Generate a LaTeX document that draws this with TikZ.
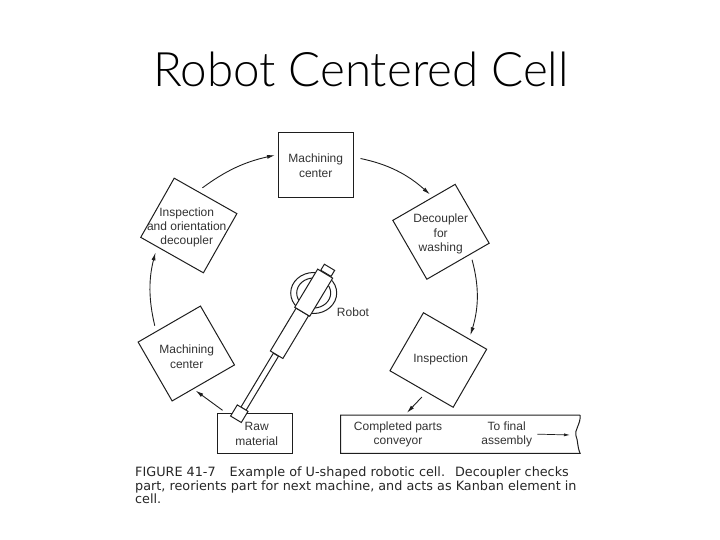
\documentclass[tikz,border=0pt]{standalone}
\usepackage{xcolor}
\usepackage{fontspec}
\setmainfont{Liberation Sans}
\newfontfamily\captionfont{DejaVu Sans}
\newfontfamily\titlefont{Lato Light}
\definecolor{inkline}{HTML}{1E1E1E}
\definecolor{inktext}{HTML}{333333}
\usetikzlibrary{arrows.meta,shapes.geometric}
\tikzset{
  cellbox/.style={draw=inkline, line width=1pt, fill=white, outer sep=0pt, inner sep=0pt},
  celltext/.style={text=inktext, align=center, inner sep=0pt, font=\fontsize{12}{14.2}\selectfont},
  armpart/.style={draw=inkline, line width=1pt, fill=white, inner sep=0pt, outer sep=0pt, rotate=-31},
  basering/.style={draw=inkline, line width=1pt, ellipse, inner sep=0pt},
  flow/.style={-{Latex[length=8pt,width=4pt]}, line width=0.9pt, inkline}
}

\begin{document}
\begin{tikzpicture}[x=1pt, y=-1pt]
\useasboundingbox (0,0) rectangle (720,540);
\node[anchor=base, inner sep=0pt, font=\titlefont\fontsize{47.5}{52}\selectfont] (title) at (361,86.7) {Robot Centered Cell};

\node[cellbox, minimum width=74.7pt, minimum height=65pt] (machtop) at (316.3,165) {};
\node[cellbox, minimum width=72pt, minimum height=68pt, rotate=30] (washbox) at (441,231.8) {};
\node[cellbox, minimum width=73pt, minimum height=67pt, rotate=-30] (inspbox) at (438.3,360) {};
\node[cellbox, minimum width=72pt, minimum height=68pt, rotate=30] (machleft) at (186.3,353.5) {};
\node[cellbox, minimum width=72pt, minimum height=68pt, rotate=-29.5] (orientbox) at (188.8,225.5) {};
\node[cellbox, minimum width=75pt, minimum height=40pt] (rawbox) at (255.2,433.3) {};
\node[inner sep=0pt, outer sep=0pt, minimum width=239.4pt, minimum height=38.3pt] (conveyor) at (460.4,434.2) {};
\draw[line width=1pt, inkline] (conveyor.north east) -- (conveyor.north west) -- (conveyor.south west) -- (conveyor.south east)
  .. controls (577,446) and (578,440) .. (576,436) .. controls (574,430) and (581,424) .. (conveyor.north east);

\node[celltext] (machtoptext) at (315.7,165.7) {Machining\\center};
\node[celltext] (washtext) at (440.7,234) {Decoupler\\for\\washing};
\node[celltext] (insptext) at (440.7,359.3) {Inspection};
\node[celltext] (machlefttext) at (186.7,356.7) {Machining\\center};
\node[celltext] (orienttext) at (186.7,227.3) {Inspection\\and orientation\\decoupler};
\node[celltext] (rawtext) at (256.7,434) {Raw\\material};
\node[celltext] (convtext) at (398,434) {Completed parts\\conveyor};
\node[celltext] (finaltext) at (506.7,434) {To final\\assembly};
\node[celltext] (robottext) at (353,312) {Robot};

\node[armpart, minimum width=6pt, minimum height=63pt] (armrod) at (259.7,381.7) {};
\node[armpart, minimum width=14.6pt, minimum height=50pt] (armmid) at (289.5,333.3) {};
\node[armpart, minimum width=12.5pt, minimum height=13pt] (gripper) at (239.3,413.7) {};
\node[basering, minimum width=46pt, minimum height=41pt] (baseouter) at (313.7,293) {};
\node[basering, minimum width=34pt, minimum height=30pt] (baseinner) at (313.7,293) {};
\node[armpart, minimum width=12pt, minimum height=7pt] (armcap) at (327.7,270.3) {};
\node[armpart, minimum width=17.5pt, minimum height=44.5pt] (armwide) at (313.7,292.7) {};

\coordinate (finaltip) at (570,435);
\draw[flow, bend left=12, shorten <=6pt, shorten >=4pt] (orientbox.105.8) to (machtop.164);
\draw[flow, bend left=15, shorten <=7pt, shorten >=4pt] (machtop.12.6) to (washbox.73);
\draw[flow, bend left=16, shorten <=6pt, shorten >=4pt] (washbox.-67.2) to (inspbox.64.4);
\draw[flow, shorten <=7pt, shorten >=3pt] (inspbox.280.5) to (conveyor.161.2);
\draw[flow, shorten <=5pt, shorten >=3pt] (rawbox.145) to (machleft.251);
\draw[flow, bend left=14, shorten <=6pt, shorten >=6pt] (machleft.114.3) to (orientbox.243.2);
\draw[-{Latex[length=6pt,width=3pt]}, line width=0.7pt, inkline, shorten <=5pt] (finaltext.east) -- (finaltip);

\node[anchor=north west, align=left, inner sep=0pt, text=black!85, font=\captionfont\fontsize{12.8}{13.4}\selectfont] (caption) at (135,467)
  {FIGURE 41-7\hspace{14pt}Example of U-shaped robotic cell.\hspace{10pt}Decoupler checks\\part, reorients part for next machine, and acts as Kanban element in\\cell.};
\end{tikzpicture}
\end{document}
